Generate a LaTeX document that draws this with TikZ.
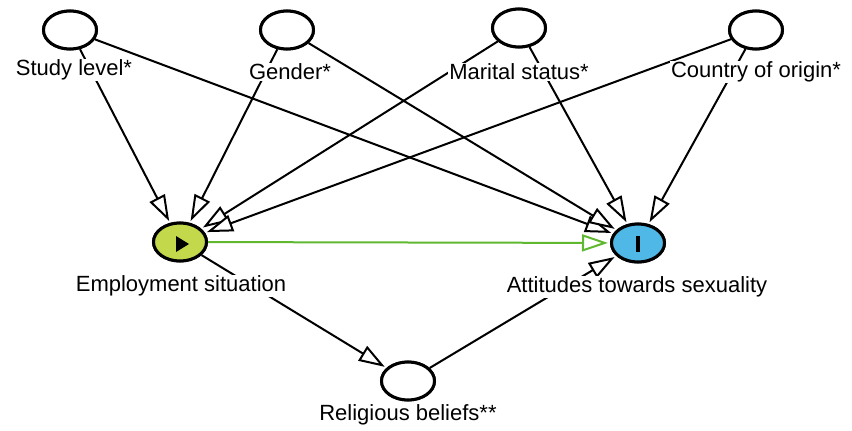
\documentclass[tikz,border=0pt]{standalone}
\usepackage{fontspec}
\setmainfont{Liberation Sans}
\usetikzlibrary{arrows.meta,shapes.geometric}
\definecolor{expcol}{RGB}{196,216,76}
\definecolor{outcol}{RGB}{80,184,230}
\definecolor{causal}{RGB}{96,184,48}
\tikzset{
  var/.style={ellipse,draw=black,line width=3pt,fill=white,minimum width=53pt,minimum height=38pt,inner sep=0pt},
  lab/.style={fill=white,inner sep=1pt,font=\fontsize{22}{26}\selectfont},
  edge/.style={draw=black,line width=2pt,-{Triangle[fill=white,length=26pt,width=17pt,line width=2pt]},shorten >=2pt},
  gedge/.style={edge,draw=causal},
}
\begin{document}
\begin{tikzpicture}[x=1pt,y=-1pt]
\useasboundingbox (0,0) rectangle (852,431);
% variable nodes
\node[var] (S) at (70,30) {};
\node[var] (G) at (287,30) {};
\node[var] (M) at (519,28) {};
\node[var] (C) at (756,30) {};
\node[var,fill=expcol] (E) at (180,242) {};
\node[var,fill=outcol] (A) at (638,243) {};
\node[var] (R) at (408,381) {};
% edges
\draw[edge] (S) -- (E);
\draw[edge] (S) -- (A);
\draw[edge] (G) -- (E);
\draw[edge] (G) -- (A);
\draw[edge] (M) -- (E);
\draw[edge] (M) -- (A);
\draw[edge] (C) -- (E);
\draw[edge] (C) -- (A);
\draw[edge] (E) -- (R);
\draw[edge] (R) -- (A);
\draw[gedge] (E) -- (A);
% redraw nodes on top
\node[var] at (S) {};
\node[var] at (G) {};
\node[var] at (M) {};
\node[var] at (C) {};
\node[var,fill=expcol] at (E) {};
\node[var,fill=outcol] at (A) {};
\node[var] at (R) {};
% glyphs inside exposure/outcome
\fill[black] (176,236) -- (189,244) -- (176,252) -- cycle;
\fill[black] (636,236) rectangle (640,252);
% labels
\node[lab] (Sl) at (74,70) {Study level*};
\node[lab] (Gl) at (290,72) {Gender*};
\node[lab] (Ml) at (519,72) {Marital status*};
\node[lab] (Cl) at (756,72) {Country of origin*};
\node[lab] (El) at (181,286) {Employment situation};
\node[lab] (Al) at (637,287) {Attitudes towards sexuality};
\node[lab] (Rl) at (408,415) {Religious beliefs**};
\end{tikzpicture}
\end{document}
